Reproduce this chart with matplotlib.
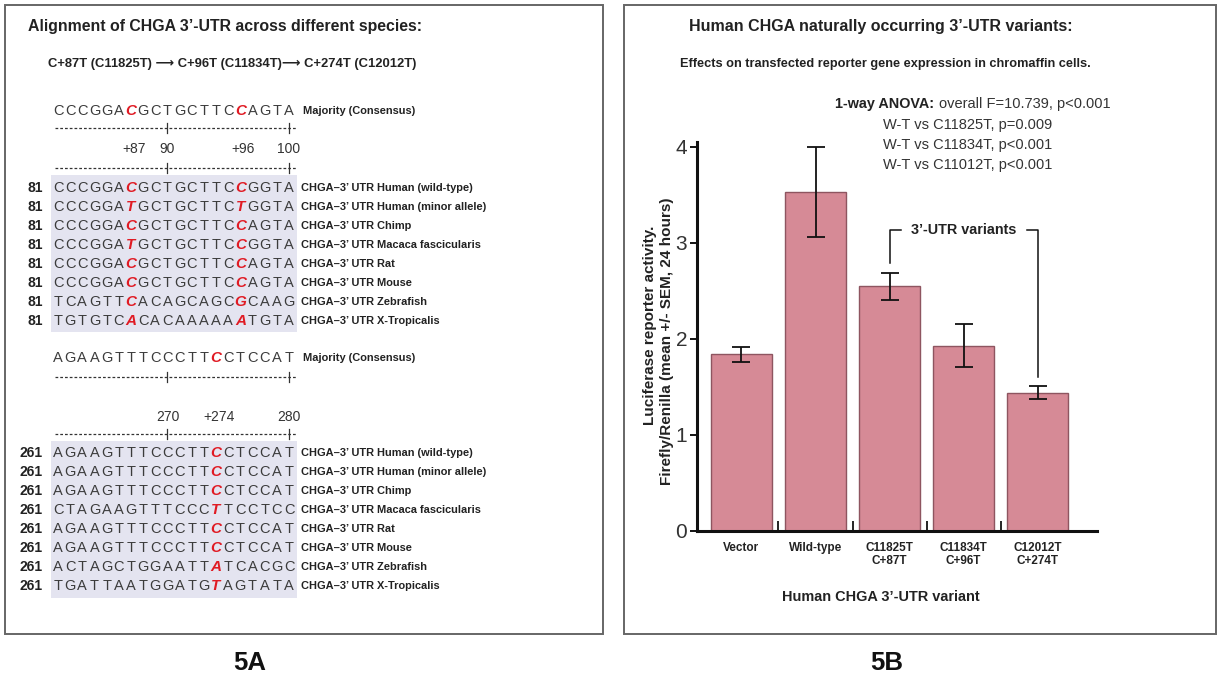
import matplotlib
matplotlib.use('Agg')
import matplotlib.pyplot as plt
from matplotlib.patches import Rectangle
from matplotlib import font_manager

# ---------------- data ----------------
categories = ['Vector', 'Wild-type', 'C11825T\nC+87T', 'C11834T\nC+96T', 'C12012T\nC+274T']
means = [1.84, 3.53, 2.55, 1.93, 1.44]
sems = [0.08, 0.47, 0.14, 0.22, 0.07]
yticks = [0, 1, 2, 3, 4]

species = ['Human (wild-type)', 'Human (minor allele)', 'Chimp', 'Macaca fascicularis',
           'Rat', 'Mouse', 'Zebrafish', 'X-Tropicalis']
consensus1 = 'CCCGGACGCTGCTTCCAGTA'
seqs1 = ['CCCGGACGCTGCTTCCGGTA', 'CCCGGATGCTGCTTCTGGTA', 'CCCGGACGCTGCTTCCAGTA',
         'CCCGGATGCTGCTTCCGGTA', 'CCCGGACGCTGCTTCCAGTA', 'CCCGGACGCTGCTTCCAGTA',
         'TCAGTTCACAGCAGCGCAAG', 'TGTGTCACACAAAAAATGTA']
red1 = [6, 15]
start1 = 81
ruler1 = [('+87', 6), ('90', 9), ('+96', 15), ('100', 19)]

consensus2 = 'AGAAGTTTCCCTTCCTCCAT'
seqs2 = ['AGAAGTTTCCCTTCCTCCAT', 'AGAAGTTTCCCTTCCTCCAT', 'AGAAGTTTCCCTTCCTCCAT',
         'CTAGAAGTTTCCCTTCCTCC', 'AGAAGTTTCCCTTCCTCCAT', 'AGAAGTTTCCCTTCCTCCAT',
         'ACTAGCTGGAATTATCACGC', 'TGATTAATGGATGTAGTATA']
red2 = [13]
start2 = 261
ruler2 = [('270', 9), ('+274', 13), ('280', 19)]

anova_head = '1-way ANOVA:'
anova_lines = ['overall F=10.739, p<0.001', 'W-T vs C11825T, p=0.009',
               'W-T vs C11834T, p<0.001', 'W-T vs C11012T, p<0.001']

# ---------------- fonts ----------------
avail = {f.name for f in font_manager.fontManager.ttflist}
NARROW = ['Liberation Sans Narrow', 'Liberation Sans', 'DejaVu Sans'] if 'Liberation Sans Narrow' in avail \
    else ['Liberation Sans', 'DejaVu Sans']
REG = ['Liberation Sans', 'DejaVu Sans']

W, H = 1218, 679
fig = plt.figure(figsize=(W / 100, H / 100), dpi=100)
ov = fig.add_axes([0, 0, 1, 1], zorder=0)
ov.set_xlim(0, W)
ov.set_ylim(H, 0)
ov.axis('off')
renderer = fig.canvas.get_renderer()

def fit(t, width):
    bb = t.get_window_extent(renderer)
    w = bb.height if abs(t.get_rotation() % 180 - 90) < 1 else bb.width
    t.set_fontsize(t.get_fontsize() * width / w)
    return t

def txt(x, y, s, width=None, size=10, bold=True, family=None, **kw):
    t = ov.text(x, y, s, fontsize=size, fontweight='bold' if bold else 'normal',
                family=family or NARROW, **kw)
    if width:
        fit(t, width)
    return t

DARK = '#222222'
LET = '#3c3c3c'
RED = '#e01b24'

# panel boxes
ov.add_patch(Rectangle((5, 5), 598, 629, fill=False, ec='#666666', lw=1.4))
ov.add_patch(Rectangle((624, 5), 592, 629, fill=False, ec='#666666', lw=1.4))

# ---------------- panel A ----------------
txt(28, 27, 'Alignment of CHGA 3’-UTR across different species:', 395, 13, ha='left', va='center', color=DARK)
txt(48, 64, 'C+87T (C11825T) ⟶ C+96T (C11834T)⟶ C+274T (C12012T)', 370, 11, ha='left', va='center', color=DARK)

X0, DX = 58, 12.16
def lx(i):
    return X0 + i * DX

def seq_row(seq, y, reds):
    for i, ch in enumerate(seq):
        if i in reds:
            ov.text(lx(i), y, ch, fontsize=11, color=RED, fontweight='bold', fontstyle='italic',
                    family=REG, ha='center', va='center')
        else:
            ov.text(lx(i), y, ch, fontsize=10.5, color=LET, family=REG, ha='center', va='center')

def ruler(y, mid_idx, end_idx):
    ov.plot([lx(0) - 3, lx(19) + 8], [y, y], color='#333333', lw=0.9, ls=(0, (2.2, 1.6)))
    for i in (mid_idx, end_idx):
        ov.plot([lx(i), lx(i)], [y - 5, y + 5], color='#333333', lw=0.9)

label_size = None
def block(cons, seqs, reds, start, rulers, y_cons, y_r1, y_num, y_r2, y_rows, shade):
    global label_size
    seq_row(cons, y_cons, reds)
    txt(303, y_cons, 'Majority (Consensus)', 112, 10, ha='left', va='center', color=DARK)
    ruler(y_r1, 9, 19)
    for lab, i in rulers:
        off = 3 if lab.startswith('+') else 0
        ov.text(lx(i) + off, y_num, lab, fontsize=10, family=REG, color='#333333', ha='center', va='center')
    ruler(y_r2, 9, 19)
    ov.add_patch(Rectangle((51, shade[0]), 246, shade[1] - shade[0], fc='#e4e4f0', ec='none', zorder=0))
    for k, (sq, sp) in enumerate(zip(seqs, species)):
        y = y_rows[0] + k * y_rows[1]
        seq_row(sq, y, reds)
        txt(43, y, str(start), None, 10, ha='right', va='center', color=DARK)
        t = txt(301, y, 'CHGA–3’ UTR ' + sp, None, label_size or 10, ha='left', va='center', color=DARK)
        if label_size is None and k == 0:
            fit(t, 171)
            label_size = t.get_fontsize()

block(consensus1, seqs1, red1, start1, ruler1, 111, 128, 149, 168, (188, 19), (175, 332))
block(consensus2, seqs2, red2, start2, ruler2, 358, 377, 417, 434, (453, 19), (441, 598))

txt(250, 663, '5A', 33, 20, ha='center', va='center', color='#111111')
txt(887, 663, '5B', 33, 20, ha='center', va='center', color='#111111')

# ---------------- panel B ----------------
txt(881, 27, 'Human CHGA naturally occurring 3’-UTR variants:', 382, 13, ha='center', va='center', color=DARK)
txt(885, 64, 'Effects on transfected reporter gene expression in chromaffin cells.', 410, 9, ha='center', va='center', color=DARK)
txt(835, 104, anova_head, 99, 11, ha='left', va='center', color=DARK)
a0 = txt(939, 104, anova_lines[0], 170, 11, bold=False, ha='left', va='center', color='#333333')
for k, line in enumerate(anova_lines[1:]):
    ov.text(883, 125 + 20 * k, line, fontsize=a0.get_fontsize(), family=NARROW, color='#333333',
            ha='left', va='center')

txt(881, 597, 'Human CHGA 3’-UTR variant', 198, 10.5, ha='center', va='center', color=DARK)
txt(667, 341, 'Firefly/Renilla (mean +/- SEM, 24 hours)', None, 11, ha='center', va='center',
    rotation=90, color=DARK)
txt(650, 325, 'Luciferase reporter activity.', None, 11, ha='center', va='center',
    rotation=90, color=DARK)

ax = fig.add_axes([697 / W, 1 - 531 / H, 400 / W, (531 - 142) / H], zorder=2)
ax.patch.set_alpha(0)
xpos = list(range(len(categories)))
ax.bar(xpos, means, width=0.82, color='#d68a96', edgecolor='#8e5560', linewidth=1.0,
       yerr=sems, capsize=6.5, error_kw=dict(ecolor='#111111', elinewidth=1.3, capthick=1.3), zorder=2)
ax.set_xlim(-0.6, 4.8)
ax.set_ylim(0, 4.05)
for s in ('top', 'right'):
    ax.spines[s].set_visible(False)
for s in ('left', 'bottom'):
    ax.spines[s].set_linewidth(2.2)
    ax.spines[s].set_color('#111111')
ax.set_yticks(yticks)
ax.set_yticklabels([str(v) for v in yticks], fontsize=15, color='#333333', family=REG)
ax.tick_params(axis='y', direction='out', length=5, width=1.3, pad=2)
ax.set_xticks([p + 0.5 for p in xpos[:-1]])
ax.set_xticklabels([])
ax.tick_params(axis='x', which='major', direction='in', length=7, width=1.2)
ax.set_xticks(xpos, minor=True)
ax.set_xticklabels(categories, minor=True, fontsize=9.5, fontweight='bold', family=NARROW, color=DARK)
ax.tick_params(axis='x', which='minor', length=0, pad=8)
lbls = ax.get_xticklabels(minor=True)
bb = lbls[0].get_window_extent(renderer)
scale = 36 / bb.width
for l in lbls:
    l.set_fontsize(l.get_fontsize() * scale)
    l.set_linespacing(1.05)

# bracket annotation for the 3'-UTR variants
yb = 3.135
bk = dict(color='#111111', lw=1.1, clip_on=False)
ax.plot([2, 2, 2.15], [2.79, yb, yb], **bk)
ax.plot([3.85, 4, 4], [yb, yb, 1.60], **bk)
t = ax.text(3, yb, '3’-UTR variants', fontsize=11, fontweight='bold', family=NARROW, color=DARK,
            ha='center', va='center')
fit(t, 106)

fig.savefig('out.png', dpi=100)
